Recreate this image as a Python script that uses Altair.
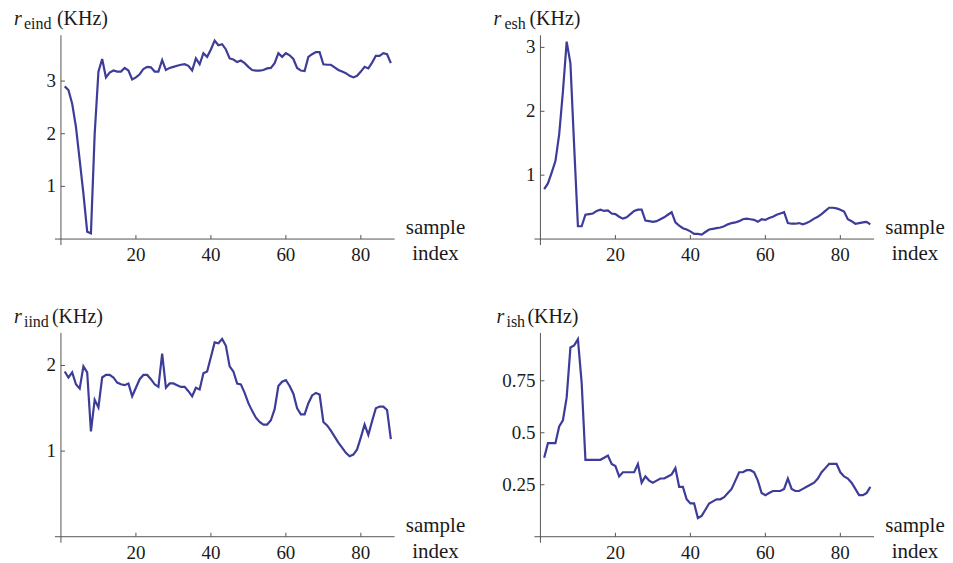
import altair as alt
import pandas as pd

sample_index = list(range(1, 89))

r_eind = [2.90, 2.83, 2.57, 2.13, 1.50, 0.86, 0.14, 0.11, 2.00, 3.18,
          3.42, 3.07, 3.16, 3.20, 3.18, 3.18, 3.25, 3.20, 3.03, 3.07,
          3.13, 3.23, 3.27, 3.26, 3.18, 3.18, 3.40, 3.21, 3.25, 3.27,
          3.29, 3.31, 3.32, 3.29, 3.20, 3.43, 3.32, 3.53, 3.46, 3.60,
          3.77, 3.68, 3.70, 3.60, 3.43, 3.41, 3.36, 3.39, 3.34, 3.27,
          3.21, 3.20, 3.20, 3.21, 3.24, 3.25, 3.34, 3.53, 3.46, 3.53,
          3.49, 3.42, 3.25, 3.20, 3.19, 3.46, 3.51, 3.55, 3.55, 3.32,
          3.31, 3.31, 3.26, 3.21, 3.18, 3.15, 3.10, 3.07, 3.10, 3.18,
          3.27, 3.24, 3.35, 3.48, 3.48, 3.53, 3.51, 3.34]

r_esh = [0.78, 0.87, 1.04, 1.22, 1.64, 2.31, 3.09, 2.75, 1.45, 0.20,
         0.20, 0.38, 0.39, 0.40, 0.44, 0.46, 0.44, 0.45, 0.40, 0.39,
         0.35, 0.32, 0.34, 0.39, 0.44, 0.46, 0.46, 0.29, 0.28, 0.27,
         0.28, 0.31, 0.34, 0.38, 0.42, 0.26, 0.21, 0.17, 0.15, 0.12,
         0.08, 0.08, 0.07, 0.11, 0.15, 0.16, 0.17, 0.18, 0.20, 0.23,
         0.25, 0.26, 0.28, 0.31, 0.32, 0.31, 0.30, 0.27, 0.31, 0.30,
         0.33, 0.35, 0.38, 0.40, 0.42, 0.25, 0.24, 0.24, 0.25, 0.23,
         0.25, 0.28, 0.32, 0.35, 0.39, 0.44, 0.49, 0.49, 0.48, 0.46,
         0.43, 0.31, 0.28, 0.24, 0.25, 0.26, 0.27, 0.23]

r_iind = [1.93, 1.86, 1.92, 1.78, 1.73, 1.99, 1.92, 1.23, 1.60, 1.51,
          1.86, 1.89, 1.89, 1.86, 1.80, 1.78, 1.77, 1.79, 1.64, 1.74,
          1.84, 1.89, 1.89, 1.84, 1.78, 1.75, 2.14, 1.74, 1.79, 1.79,
          1.77, 1.75, 1.75, 1.70, 1.64, 1.74, 1.72, 1.91, 1.93, 2.10,
          2.27, 2.26, 2.31, 2.23, 1.99, 1.93, 1.79, 1.78, 1.68, 1.56,
          1.47, 1.39, 1.34, 1.31, 1.31, 1.36, 1.49, 1.76, 1.81, 1.83,
          1.76, 1.67, 1.50, 1.43, 1.43, 1.56, 1.65, 1.68, 1.66, 1.34,
          1.30, 1.24, 1.17, 1.10, 1.04, 0.98, 0.94, 0.96, 1.02, 1.16,
          1.31, 1.19, 1.35, 1.50, 1.52, 1.52, 1.48, 1.14]

r_ish = [0.38, 0.45, 0.45, 0.45, 0.53, 0.56, 0.67, 0.91, 0.92, 0.95,
         0.74, 0.37, 0.37, 0.37, 0.37, 0.37, 0.38, 0.39, 0.35, 0.34,
         0.29, 0.31, 0.31, 0.31, 0.31, 0.35, 0.26, 0.29, 0.27, 0.26,
         0.27, 0.28, 0.28, 0.29, 0.30, 0.33, 0.24, 0.24, 0.18, 0.16,
         0.16, 0.09, 0.10, 0.13, 0.16, 0.17, 0.18, 0.18, 0.19, 0.21,
         0.23, 0.27, 0.31, 0.31, 0.32, 0.32, 0.31, 0.27, 0.21, 0.20,
         0.21, 0.22, 0.22, 0.22, 0.23, 0.28, 0.23, 0.22, 0.22, 0.23,
         0.24, 0.25, 0.26, 0.28, 0.31, 0.33, 0.35, 0.35, 0.35, 0.31,
         0.29, 0.28, 0.26, 0.23, 0.20, 0.20, 0.21, 0.24]

x_ticks = [20, 40, 60, 80]
x_tick_labels = ["20", "40", "60", "80"]
y_ticks_eind = [1, 2, 3]
y_ticks_esh = [1, 2, 3]
y_ticks_iind = [1, 2]
y_ticks_ish = [0.25, 0.5, 0.75]
y_labels_eind = ["1", "2", "3"]
y_labels_esh = ["1", "2", "3"]
y_labels_iind = ["1", "2"]
y_labels_ish = ["0.25", "0.5", "0.75"]

subscripts = ["eind", "esh", "iind", "ish"]
unit_label = "(KHz)"
x_label_lines = ["sample", "index"]

FONT = "Liberation Serif"
LINE = "#3d3d99"
AX = "#555555"
TXT = "#1a1a1a"
W, H = 334, 204


def panel(values, ymax, yticks, ylabels, sub, r_x, sub_x, khz_x):
    df = pd.DataFrame({"i": sample_index, "v": values})
    xs = alt.Scale(domain=[0, 89], nice=False, zero=False)
    ys = alt.Scale(domain=[0, ymax], nice=False, zero=False)
    line = alt.Chart(df).mark_line(color=LINE, strokeWidth=2.2).encode(
        x=alt.X("i:Q", scale=xs, axis=None),
        y=alt.Y("v:Q", scale=ys, axis=None),
    )
    one = alt.Data(values=[{"k": 0}])
    yaxis = alt.Chart(one).mark_rule(color=AX, strokeWidth=1).encode(
        x=alt.value(0), y=alt.value(0), y2=alt.value(H + 6))
    xaxis = alt.Chart(one).mark_rule(color=AX, strokeWidth=1).encode(
        x=alt.value(-6), x2=alt.value(W), y=alt.value(H))
    ydf = pd.DataFrame({"t": yticks, "lab": ylabels})
    xdf = pd.DataFrame({"t": x_ticks, "lab": x_tick_labels})
    ytk = alt.Chart(ydf).mark_rule(color=AX, strokeWidth=1).encode(
        y=alt.Y("t:Q", scale=ys, axis=None), x=alt.value(0), x2=alt.value(4))
    xtk = alt.Chart(xdf).mark_rule(color=AX, strokeWidth=1).encode(
        x=alt.X("t:Q", scale=xs, axis=None), y=alt.value(H), y2=alt.value(H - 4))
    ylab = alt.Chart(ydf).mark_text(font=FONT, fontSize=19, align="right", baseline="middle",
                                    color=TXT).encode(
        y=alt.Y("t:Q", scale=ys, axis=None), x=alt.value(-5), text="lab:N")
    xlab = alt.Chart(xdf).mark_text(font=FONT, fontSize=19, align="center", baseline="top",
                                    color=TXT).encode(
        x=alt.X("t:Q", scale=xs, axis=None), y=alt.value(H + 7), text="lab:N")
    t_r = alt.Chart(one).mark_text(font=FONT, fontSize=20, fontStyle="italic", align="left",
                                   baseline="alphabetic", color=TXT).encode(
        x=alt.value(r_x), y=alt.value(-10), text=alt.value("r"))
    t_sub = alt.Chart(one).mark_text(font=FONT, fontSize=16, align="left",
                                     baseline="alphabetic", color=TXT).encode(
        x=alt.value(sub_x), y=alt.value(-6), text=alt.value(sub))
    t_unit = alt.Chart(one).mark_text(font=FONT, fontSize=20, align="left",
                                      baseline="alphabetic", color=TXT).encode(
        x=alt.value(khz_x), y=alt.value(-10), text=alt.value(unit_label))
    t_s = alt.Chart(one).mark_text(font=FONT, fontSize=21, align="center",
                                   baseline="alphabetic", color=TXT).encode(
        x=alt.value(W + 41), y=alt.value(H - 5), text=alt.value(x_label_lines[0]))
    t_i = alt.Chart(one).mark_text(font=FONT, fontSize=21, align="center",
                                   baseline="alphabetic", color=TXT).encode(
        x=alt.value(W + 41), y=alt.value(H + 21), text=alt.value(x_label_lines[1]))
    return alt.layer(line, yaxis, xaxis, ytk, xtk, ylab, xlab,
                     t_r, t_sub, t_unit, t_s, t_i).properties(width=W, height=H)


p1 = panel(r_eind, 3.87, y_ticks_eind, y_labels_eind, subscripts[0], -47, -37, -4)
p2 = panel(r_esh, 3.19, y_ticks_esh, y_labels_esh, subscripts[1], -47, -36, -11)
p3 = panel(r_iind, 2.38, y_ticks_iind, y_labels_iind, subscripts[2], -47, -37, -9)
p4 = panel(r_ish, 0.98, y_ticks_ish, y_labels_ish, subscripts[3], -44, -34, -13)

chart = alt.concat(p1, p2, p3, p4, columns=2, spacing={"row": 94, "column": 146},
                   bounds="flush").properties(
    padding={"left": 6, "top": 1, "right": 0, "bottom": 0}
).configure_view(stroke=None)

chart.save("out.html", embed_options={"renderer": "svg", "actions": False})
